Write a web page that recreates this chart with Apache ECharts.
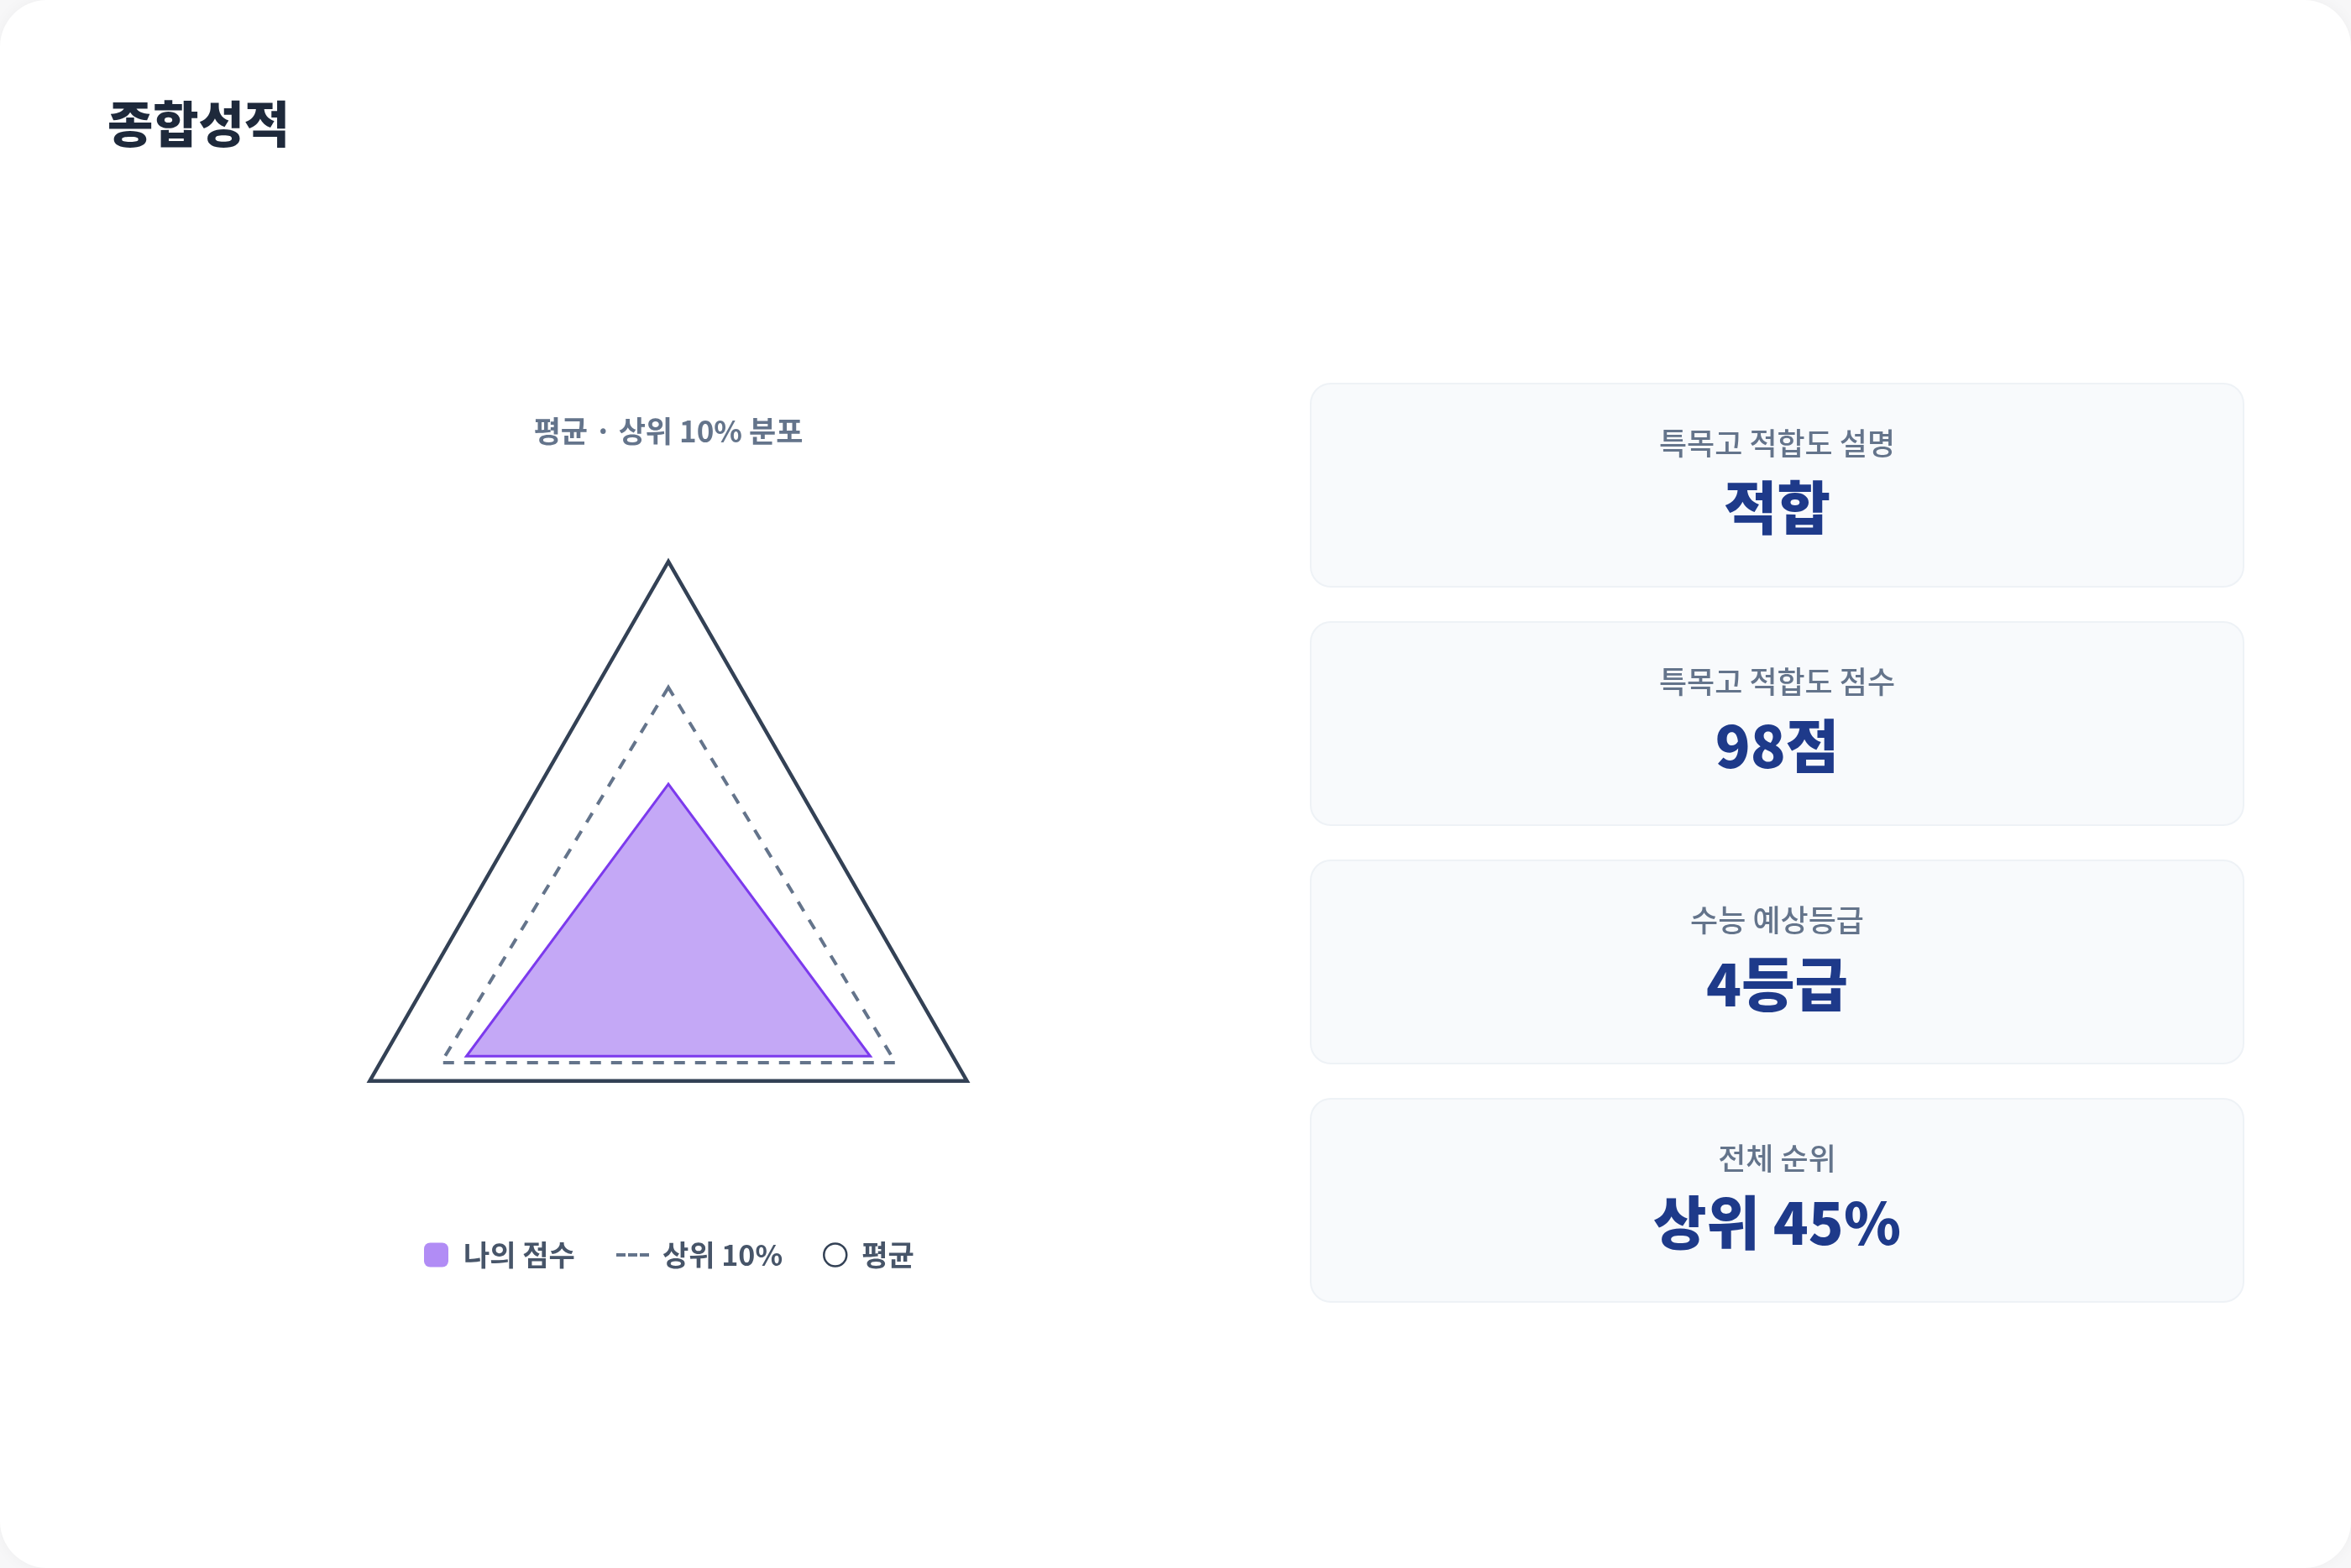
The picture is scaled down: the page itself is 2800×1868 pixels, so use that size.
<!DOCTYPE html>
<html lang="ko">
<head>
<meta charset="utf-8">
<title>종합성적</title>
<script src="https://cdn.jsdelivr.net/npm/echarts@6/dist/echarts.min.js"></script>
<style>
  html, body { margin: 0; padding: 0; background: #f7f7f8; }
  #wrap { width: 2800px; height: 1868px; border-radius: 56px; background: #ffffff; overflow: hidden; box-shadow: 0 0 18px rgba(15,23,42,0.04); }
  #chart { width: 2800px; height: 1868px; }
</style>
</head>
<body>
<div id="wrap"><div id="chart"></div></div>
<script>
// ---- data ----
const pageTitle = '종합성적';
const chartSubtitle = '평균 · 상위 10% 분포';
const seriesNames = ['나의 점수', '상위 10%', '평균'];
// three axes (polar angles, degrees) of the distribution triangle
const axisAngles = [90, 194.3, 345.7];
// values on each axis (0–100 scale)
const myScore = [49.8, 47.0, 47.0];
const top10 = [71.6, 52.9, 52.9];
const average = [100, 69.5, 69.5];
// summary cards
const cardLabels = ['특목고 적합도 설명', '특목고 적합도 점수', '수능 예상등급', '전체 순위'];
const cardValues = ['적합', '98점', '4등급', '상위 45%'];

// ---- chart ----
const FONT = '"Noto Sans CJK KR", "Noto Sans", sans-serif';
const chart = echarts.init(document.getElementById('chart'), null, { renderer: 'canvas' });

function polyRender(values, styleFn) {
  return function (params, api) {
    if (params.dataIndex !== 0) return null;
    const pts = values.map((v, i) => api.coord([v, axisAngles[i]]));
    return { type: 'polygon', shape: { points: pts }, style: styleFn() };
  };
}
function toData(values) { return values.map((v, i) => [v, axisAngles[i]]); }

const cardX = 1561, cardW = 1111, cardH = 242;
const cardTops = [457, 741, 1025, 1309];
const graphics = [
  { type: 'text', x: 796, y: 514, style: { text: chartSubtitle, textAlign: 'center', textVerticalAlign: 'middle', font: '600 35px ' + FONT, fill: '#64748b' } }
];
cardLabels.forEach((lab, i) => {
  const top = cardTops[i];
  graphics.push({ type: 'rect', shape: { x: cardX, y: top, width: cardW, height: cardH, r: 24 }, style: { fill: '#f8fafc', stroke: '#eef2f6', lineWidth: 2 } });
  graphics.push({ type: 'text', x: cardX + cardW / 2, y: top + 71, style: { text: lab, textAlign: 'center', textVerticalAlign: 'middle', font: '500 36px ' + FONT, fill: '#64748b' } });
  graphics.push({ type: 'text', x: cardX + cardW / 2, y: top + 148, style: { text: cardValues[i], textAlign: 'center', textVerticalAlign: 'middle', font: '900 69px ' + FONT, fill: '#1e3a8a' } });
});

const legendText = { fontFamily: FONT, fontSize: 34, fontWeight: 600, color: '#475569', lineHeight: 42 };

chart.setOption({
  animation: false,
  title: {
    text: pageTitle, left: 128, top: 112, padding: 0,
    textStyle: { fontFamily: FONT, fontSize: 59, fontWeight: 900, color: '#1e293b', lineHeight: 72 }
  },
  polar: { center: [796, 1197], radius: 528 },
  angleAxis: { type: 'value', min: 0, max: 360, startAngle: 0, clockwise: false, show: false },
  radiusAxis: { type: 'value', min: 0, max: 100, show: false },
  legend: [
    { left: 505, top: 1474, padding: 0, itemWidth: 29, itemHeight: 29, selectedMode: false,
      textStyle: Object.assign({ padding: [0, 0, 0, 13] }, legendText),
      data: [{ name: seriesNames[0], icon: 'roundRect', itemStyle: { color: '#b18cf5', borderWidth: 0 } }] },
    { left: 734, top: 1474, padding: 0, itemWidth: 39, itemHeight: 4, selectedMode: false,
      textStyle: Object.assign({ padding: [0, 0, 0, 11] }, legendText),
      data: [{ name: seriesNames[1], icon: 'path://M0,0H11V4H0Z M14,0H25V4H14Z M28,0H39V4H28Z', itemStyle: { color: '#64748b', borderWidth: 0 } }] },
    { left: 980, top: 1474, padding: 0, itemWidth: 27, itemHeight: 27, selectedMode: false,
      textStyle: Object.assign({ padding: [0, 0, 0, 13] }, legendText),
      data: [{ name: seriesNames[2], icon: 'circle', itemStyle: { color: '#ffffff', borderColor: '#334155', borderWidth: 2.5 } }] }
  ],
  series: [
    { type: 'custom', name: seriesNames[2], coordinateSystem: 'polar', data: toData(average), z: 2,
      itemStyle: { color: '#334155' },
      renderItem: polyRender(average, () => ({ fill: 'none', stroke: '#334155', lineWidth: 4.5, lineJoin: 'miter' })) },
    { type: 'custom', name: seriesNames[1], coordinateSystem: 'polar', data: toData(top10), z: 3,
      itemStyle: { color: '#64748b' },
      renderItem: polyRender(top10, () => ({ fill: 'none', stroke: '#64748b', lineWidth: 4, lineDash: [13, 12], lineJoin: 'miter' })) },
    { type: 'custom', name: seriesNames[0], coordinateSystem: 'polar', data: toData(myScore), z: 4,
      itemStyle: { color: '#b18cf5' },
      renderItem: polyRender(myScore, () => ({ fill: '#c4a8f6', stroke: '#7c3aed', lineWidth: 3, lineJoin: 'miter' })) }
  ],
  graphic: graphics
});
</script>
</body>
</html>
